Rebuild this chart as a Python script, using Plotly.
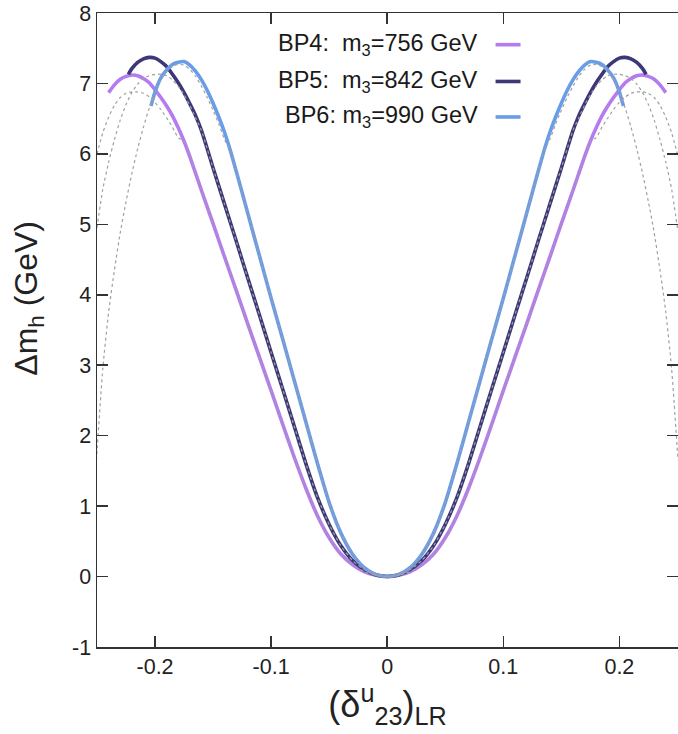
import plotly.graph_objects as go

# ---- data (left half, x <= 0; the chart is mirror-symmetric) ----
X_BP4 = [-0.240, -0.235, -0.230, -0.225, -0.220, -0.215, -0.210, -0.205, -0.200, -0.195,
         -0.190, -0.185, -0.180, -0.175, -0.170, -0.160, -0.150, -0.140, -0.130, -0.120,
         -0.110, -0.100, -0.090, -0.080, -0.070, -0.060, -0.050, -0.040, -0.030, -0.020,
         -0.010, 0.0]
Y_BP4 = [6.87, 6.98, 7.06, 7.10, 7.12, 7.11, 7.07, 7.01, 6.91, 6.80,
         6.68, 6.54, 6.37, 6.18, 5.96, 5.48, 5.01, 4.53, 4.06, 3.58,
         3.11, 2.64, 2.16, 1.69, 1.25, 0.86, 0.55, 0.32, 0.17, 0.07,
         0.02, 0.0]

X_BP5 = [-0.223, -0.220, -0.215, -0.210, -0.205, -0.200, -0.195, -0.190, -0.185, -0.180,
         -0.175, -0.170, -0.165, -0.160, -0.155, -0.150, -0.140, -0.130, -0.120, -0.110,
         -0.100, -0.090, -0.080, -0.070, -0.060, -0.050, -0.040, -0.030, -0.020, -0.010, 0.0]
Y_BP5 = [7.13, 7.21, 7.30, 7.35, 7.37, 7.36, 7.31, 7.24, 7.13, 7.01,
         6.87, 6.71, 6.54, 6.33, 6.07, 5.80, 5.28, 4.76, 4.23, 3.71,
         3.18, 2.66, 2.13, 1.60, 1.12, 0.74, 0.44, 0.23, 0.10, 0.025, 0.0]

X_BP6 = [-0.2035, -0.200, -0.195, -0.190, -0.185, -0.180, -0.175, -0.170, -0.165, -0.160,
         -0.155, -0.150, -0.145, -0.140, -0.135, -0.130, -0.120, -0.110, -0.100, -0.090,
         -0.080, -0.070, -0.060, -0.050, -0.040, -0.030, -0.020, -0.010, 0.0]
Y_BP6 = [6.68, 6.88, 7.08, 7.19, 7.27, 7.30, 7.31, 7.26, 7.17, 7.05,
         6.90, 6.72, 6.52, 6.30, 6.04, 5.75, 5.15, 4.55, 3.95, 3.37,
         2.78, 2.19, 1.60, 1.05, 0.62, 0.32, 0.13, 0.03, 0.0]

# dotted approximations: outer parts (they merge with the solid curves further in)
XD4 = [-0.250, -0.245, -0.240, -0.235, -0.230, -0.225, -0.220, -0.215, -0.210, -0.205,
       -0.200, -0.195, -0.190, -0.185, -0.180]
YD4 = [6.00, 6.30, 6.52, 6.69, 6.80, 6.86, 6.88, 6.88, 6.86, 6.81,
       6.73, 6.63, 6.51, 6.38, 6.23]
XD5 = [-0.250, -0.245, -0.240, -0.235, -0.230, -0.225, -0.220, -0.215, -0.210, -0.205,
       -0.200, -0.195, -0.190, -0.185, -0.180, -0.175, -0.170, -0.165]
YD5 = [4.95, 5.50, 5.88, 6.20, 6.48, 6.70, 6.87, 6.99, 7.07, 7.11,
       7.13, 7.13, 7.11, 7.05, 6.96, 6.84, 6.69, 6.51]
XD6 = [-0.2505, -0.245, -0.240, -0.235, -0.230, -0.225, -0.220, -0.215, -0.210, -0.205,
       -0.200, -0.195, -0.190, -0.185, -0.180, -0.175, -0.170, -0.165, -0.160, -0.155,
       -0.150, -0.145, -0.140]
YD6 = [1.65, 2.95, 3.75, 4.35, 4.88, 5.32, 5.72, 6.07, 6.38, 6.65,
       6.88, 7.05, 7.17, 7.24, 7.27, 7.26, 7.20, 7.10, 6.96, 6.80,
       6.62, 6.42, 6.20]

LABELS = ["BP4:&nbsp;&nbsp;m<sub>3</sub>=756 GeV",
          "BP5:&nbsp;&nbsp;m<sub>3</sub>=842 GeV",
          "BP6:&nbsp;m<sub>3</sub>=990 GeV"]
COLORS = ["#b47cf0", "#3c3878", "#6a9ce8"]

X_TICKS = [-0.2, -0.1, 0, 0.1, 0.2]
X_TICKTEXT = ["-0.2", "-0.1", "0", "0.1", "0.2"]
Y_TICKS = [-1, 0, 1, 2, 3, 4, 5, 6, 7, 8]
Y_TICKTEXT = ["-1", "0", "1", "2", "3", "4", "5", "6", "7", "8"]

FONT = "Liberation Sans, Arial, Helvetica, sans-serif"


def mirror(xs, ys):
    fx = list(xs) + [-v for v in reversed(xs[:-1])]
    fy = list(ys) + list(reversed(ys[:-1]))
    return fx, fy


def dotted(xo, yo, xs, ys):
    mx = [v for v in xs if v > xo[-1]]
    my = [ys[i] for i, v in enumerate(xs) if v > xo[-1]]
    return mirror(list(xo) + mx, list(yo) + my)


fig = go.Figure()
solids = [(X_BP4, Y_BP4), (X_BP5, Y_BP5), (X_BP6, Y_BP6)]
dots = [(XD4, YD4), (XD5, YD5), (XD6, YD6)]

for (xs, ys), c in zip(solids, COLORS):
    fx, fy = mirror(xs, ys)
    fig.add_trace(go.Scatter(x=fx, y=fy, mode="lines",
                             line=dict(color=c, width=3.6, shape="spline", smoothing=0.6),
                             showlegend=False, hoverinfo="skip"))
for (xo, yo), (xs, ys) in zip(dots, solids):
    fx, fy = dotted(xo, yo, xs, ys)
    fig.add_trace(go.Scatter(x=fx, y=fy, mode="lines",
                             line=dict(color="#a0a0a0", width=1.2, dash="dot",
                                       shape="spline", smoothing=0.6),
                             showlegend=False, hoverinfo="skip"))

# legend (gnuplot style: right-aligned text, sample line on the right)
leg_y = [0.950, 0.892, 0.836]
for lab, c, yy in zip(LABELS, COLORS, leg_y):
    fig.add_annotation(xref="paper", yref="paper", x=0.659, y=yy, text=lab,
                       showarrow=False, xanchor="right", yanchor="middle",
                       font=dict(family=FONT, size=23.5, color="#1a1a1a"))
    fig.add_shape(type="line", xref="paper", yref="paper", x0=0.686, x1=0.729,
                  y0=yy, y1=yy, line=dict(color=c, width=3.6))

# y-axis title (as annotation so it can sit where the original puts it)
fig.add_annotation(xref="paper", yref="paper", x=-0.118, y=0.55,
                   text="Δm<sub>h</sub> (GeV)", textangle=-90, showarrow=False,
                   xanchor="center", yanchor="middle",
                   font=dict(family=FONT, size=32, color="#222222"))

axis_common = dict(showline=True, linecolor="#333333", linewidth=1.5, mirror="ticks",
                   ticks="inside", ticklen=11, tickwidth=1.5, tickcolor="#333333",
                   showgrid=False, zeroline=False, automargin=False,
                   tickfont=dict(family=FONT, size=21.5, color="#222222"))

fig.update_xaxes(range=[-0.25, 0.2505], tickvals=X_TICKS, ticktext=X_TICKTEXT,
                 title=dict(text="(δ<sup>u</sup><sub>23</sub>)<sub>LR</sub>",
                            font=dict(family=FONT, size=36, color="#222222"),
                            standoff=12),
                 **axis_common)
fig.update_yaxes(range=[-1, 8], tickvals=Y_TICKS, ticktext=Y_TICKTEXT,
                 **axis_common)

fig.update_layout(width=678, height=734, paper_bgcolor="white", plot_bgcolor="white",
                  margin=dict(l=97, r=0, t=13, b=87), showlegend=False)

fig.write_html("out.html", config={"displayModeBar": False, "staticPlot": True},
               post_script="document.body.style.margin='0';"
                           "document.body.style.padding='0';"
                           "document.body.style.overflow='hidden';")
